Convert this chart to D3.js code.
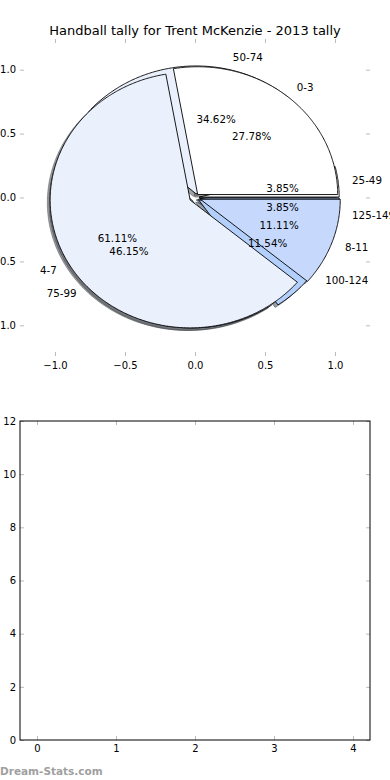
<!DOCTYPE html>
<html>
<head>
<meta charset="utf-8">
<script src="https://cdn.jsdelivr.net/npm/d3@7"></script>
<style>
body { margin: 0; background: #fff; }
svg { display: block; font-family: "DejaVu Sans", sans-serif; }
</style>
</head>
<body>
<div id="chart"></div>
<script>
// handball bins (drawn on top)
const pie1Labels = ["0-3", "4-7", "8-11"];
const pie1Values = [5, 11, 2];
const pie1Explode = [0.03, 0.04, 0.04];
const pie1Colors = ["#ffffff", "#eaf1fd", "#c6d9fd"];

// second tally (drawn underneath)
const pie2Labels = ["25-49", "50-74", "75-99", "100-124", "125-149"];
const pie2Values = [1, 9, 12, 3, 1];
const pie2Explode = [0.03, 0.03, 0.03, 0.03, 0.03];
const pie2Colors = ["#ffffff", "#eaf1fd", "#c6d9fd", "#b3cffb", "#9fc0f5"];

const pieTicks = [-1.0, -0.5, 0.0, 0.5, 1.0];
const barXTicks = [0, 1, 2, 3, 4];
const barYTicks = [0, 2, 4, 6, 8, 10, 12];

const title = "Handball tally for Trent McKenzie - 2013 tally";

const width = 390, height = 780;
const svg = d3.select("#chart").append("svg")
    .attr("width", width)
    .attr("height", height);

svg.append("rect").attr("width", width).attr("height", height).attr("fill", "#fff");

// top axes (pie, no frame)
const px = d3.scaleLinear().domain([-1.25, 1.25]).range([20, 370]);
const py = d3.scaleLinear().domain([-1.24, 1.24]).range([356, 39]);

svg.append("text")
    .attr("x", 195).attr("y", 35)
    .attr("text-anchor", "middle")
    .style("font-size", "13px")
    .text(title);

function wedgePath(cx, cy, a0, a1) {
    const pts = [[cx, cy]];
    const n = Math.max(2, Math.ceil((a1 - a0) / 0.01));
    for (let i = 0; i <= n; i++) {
        const a = a0 + (a1 - a0) * i / n;
        pts.push([cx + Math.cos(a), cy + Math.sin(a)]);
    }
    return d3.line().x(d => px(d[0])).y(d => py(d[1]))(pts) + "Z";
}

function layout(values, explode, labels, colors) {
    const arcs = d3.pie().sort(null).startAngle(0).endAngle(2 * Math.PI)(values);
    const total = d3.sum(values);
    return arcs.map((a, i) => {
        const mid = (a.startAngle + a.endAngle) / 2;
        return {
            a0: a.startAngle, a1: a.endAngle, mid: mid,
            cx: explode[i] * Math.cos(mid),
            cy: explode[i] * Math.sin(mid),
            label: labels[i],
            color: colors[i],
            pct: (100 * values[i] / total).toFixed(2) + "%"
        };
    });
}

const w2 = layout(pie2Values, pie2Explode, pie2Labels, pie2Colors);
const w1 = layout(pie1Values, pie1Explode, pie1Labels, pie1Colors);

function darker(c) {
    const r = d3.rgb(c);
    return d3.rgb(r.r * 0.3, r.g * 0.3, r.b * 0.3).toString();
}

// shadows go under every wedge
const shadows = svg.append("g");
[...w2, ...w1].forEach(d => {
    shadows.append("path")
        .attr("d", wedgePath(d.cx - 0.02, d.cy - 0.02, d.a0, d.a1))
        .attr("fill", darker(d.color))
        .attr("stroke", darker(d.color))
        .attr("fill-opacity", 0.5)
        .attr("stroke-opacity", 0.5);
});

const wedges = svg.append("g");
[...w2, ...w1].forEach(d => {
    wedges.append("path")
        .attr("d", wedgePath(d.cx, d.cy, d.a0, d.a1))
        .attr("fill", d.color)
        .attr("stroke", "#000")
        .attr("stroke-width", 0.9)
        .attr("stroke-linejoin", "miter");
});

const texts = svg.append("g").style("font-size", "10.3px");
[...w2, ...w1].forEach(d => {
    const xt = d.cx + 1.1 * Math.cos(d.mid);
    const yt = d.cy + 1.1 * Math.sin(d.mid);
    texts.append("text")
        .attr("x", px(xt)).attr("y", py(yt))
        .attr("text-anchor", xt > 0 ? "start" : "end")
        .attr("dominant-baseline", "central")
        .text(d.label);
    const xp = d.cx + 0.6 * Math.cos(d.mid);
    const yp = d.cy + 0.6 * Math.sin(d.mid);
    texts.append("text")
        .attr("x", px(xp)).attr("y", py(yp))
        .attr("text-anchor", "middle")
        .attr("dominant-baseline", "central")
        .text(d.pct);
});

const tickColor = "#bbbbbb";
const fmt = d3.format(".1f");

function styleAxis(g) {
    g.select(".domain").remove();
    g.selectAll(".tick line").attr("stroke", tickColor);
    g.selectAll(".tick text").attr("fill", "#000").style("font-size", "10px").style("font-family", "DejaVu Sans, sans-serif");
}

svg.append("g").attr("transform", "translate(0,356)")
    .call(d3.axisBottom(px).tickValues(pieTicks).tickFormat(fmt).tickSize(-4).tickPadding(5.5))
    .call(styleAxis);
svg.append("g").attr("transform", "translate(0,39)")
    .call(d3.axisTop(px).tickValues(pieTicks).tickFormat("").tickSize(-4))
    .call(styleAxis);
svg.append("g").attr("transform", "translate(20,0)")
    .call(d3.axisLeft(py).tickValues(pieTicks).tickFormat(fmt).tickSize(-4).tickPadding(4))
    .call(styleAxis);
svg.append("g").attr("transform", "translate(370,0)")
    .call(d3.axisRight(py).tickValues(pieTicks).tickFormat("").tickSize(-4))
    .call(styleAxis);

// bottom axes (empty)
const bx = d3.scaleLinear().domain([-0.215, 4.215]).range([20, 370]);
const by = d3.scaleLinear().domain([0, 12]).range([740, 421]);

svg.append("g").attr("transform", "translate(0,740)")
    .call(d3.axisBottom(bx).tickValues(barXTicks).tickFormat(d3.format("d")).tickSize(-4).tickPadding(4.5))
    .call(styleAxis);
svg.append("g").attr("transform", "translate(0,421)")
    .call(d3.axisTop(bx).tickValues(barXTicks).tickFormat("").tickSize(-4))
    .call(styleAxis);
svg.append("g").attr("transform", "translate(20,0)")
    .call(d3.axisLeft(by).tickValues(barYTicks).tickFormat(d3.format("d")).tickSize(-4).tickPadding(4))
    .call(styleAxis);
svg.append("g").attr("transform", "translate(370,0)")
    .call(d3.axisRight(by).tickValues(barYTicks).tickFormat("").tickSize(-4))
    .call(styleAxis);

svg.append("rect")
    .attr("x", 20).attr("y", 421)
    .attr("width", 350).attr("height", 319)
    .attr("fill", "none")
    .attr("stroke", "#000")
    .attr("stroke-width", 1);

svg.append("text")
    .attr("x", 0).attr("y", 775)
    .style("font-size", "10.5px")
    .style("font-weight", "bold")
    .attr("fill", "#a0a0a0")
    .text("Dream-Stats.com");
</script>
</body>
</html>
